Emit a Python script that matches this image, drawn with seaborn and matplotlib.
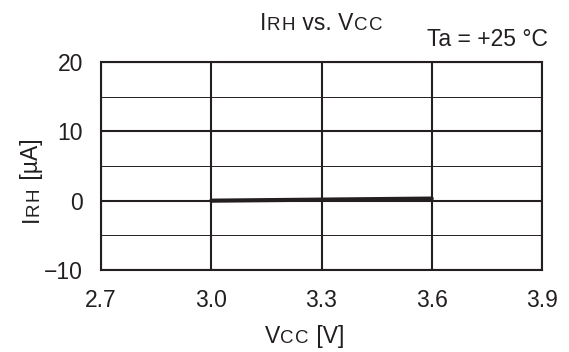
import matplotlib
matplotlib.use("Agg")
import matplotlib.pyplot as plt
import seaborn as sns
import pandas as pd

# data
vcc = [3.0, 3.3, 3.6]
irh = [0.0, 0.15, 0.3]
x_ticks = [2.7, 3.0, 3.3, 3.6, 3.9]
y_ticks = [-10, 0, 10, 20]
y_minor = [-5, 5, 15]

INK = "#231f20"
BIG = 16.5
SMALL = 13.5

sns.set_style("white")
plt.rcParams["font.family"] = ["Liberation Sans", "DejaVu Sans"]

df = pd.DataFrame({"Vcc": vcc, "Irh": irh})

fig = plt.figure(figsize=(5.69, 3.52), dpi=100)
ax = fig.add_axes([101 / 569, 1 - 270 / 352, 441 / 569, 208 / 352])

sns.lineplot(data=df, x="Vcc", y="Irh", color=INK, linewidth=3.0, ax=ax)

ax.set_xlim(2.7, 3.9)
ax.set_ylim(-10, 20)
ax.set_xticks(x_ticks)
ax.set_xticklabels([f"{v:.1f}" for v in x_ticks])
ax.set_yticks(y_ticks)
ax.set_yticks(y_minor, minor=True)
ax.tick_params(axis="both", which="both", length=0, labelsize=BIG, colors=INK)
ax.tick_params(axis="x", pad=14)
ax.tick_params(axis="y", pad=13)
ax.grid(True, which="major", color=INK, linewidth=1.5)
ax.grid(True, which="minor", axis="y", color=INK, linewidth=0.7)
ax.set_axisbelow(True)
for s in ax.spines.values():
    s.set_color(INK)
    s.set_linewidth(1.5)
ax.set_xlabel("")
ax.set_ylabel("")

renderer = fig.canvas.get_renderer()
W, H = 569, 352


def small_caps(parts, x, y, ha="center", rotation=0):
    """parts: list of (text, fontsize); x, y in pixels from bottom-left, baseline.
    Small-size parts are drawn letter by letter with a little tracking."""
    pieces = []
    for s, size in parts:
        if size == SMALL:
            pieces += [(c, size, 1.5) for c in s]
        else:
            pieces.append((s, size, 0))
    texts, lengths = [], []
    for s, size, track in pieces:
        t = fig.text(0, 0, s, fontsize=size, color=INK, rotation=rotation,
                     rotation_mode="anchor", ha="left", va="baseline")
        bb = t.get_window_extent(renderer)
        texts.append(t)
        lengths.append((bb.height if rotation else bb.width) + track)
    total = sum(lengths)
    pos = {"center": -total / 2, "left": 0, "right": -total}[ha]
    for t, L in zip(texts, lengths):
        if rotation:
            t.set_position((x / W, (y + pos) / H))
        else:
            t.set_position(((x + pos) / W, y / H))
        pos += L


small_caps([("I", BIG), ("RH", SMALL), (" vs. V", BIG), ("CC", SMALL)],
           322, H - 30)
small_caps([("V", BIG), ("CC", SMALL), (" [V]", BIG)], 305, H - 343)
small_caps([("I", BIG), ("RH", SMALL), (" [\u00b5A]", BIG)], 38, H - 180,
           rotation=90)
fig.text(548 / W, 1 - 46 / H, "Ta = +25 \u00b0C", fontsize=BIG, color=INK,
         ha="right", va="baseline")

fig.savefig("out.png", dpi=100)
